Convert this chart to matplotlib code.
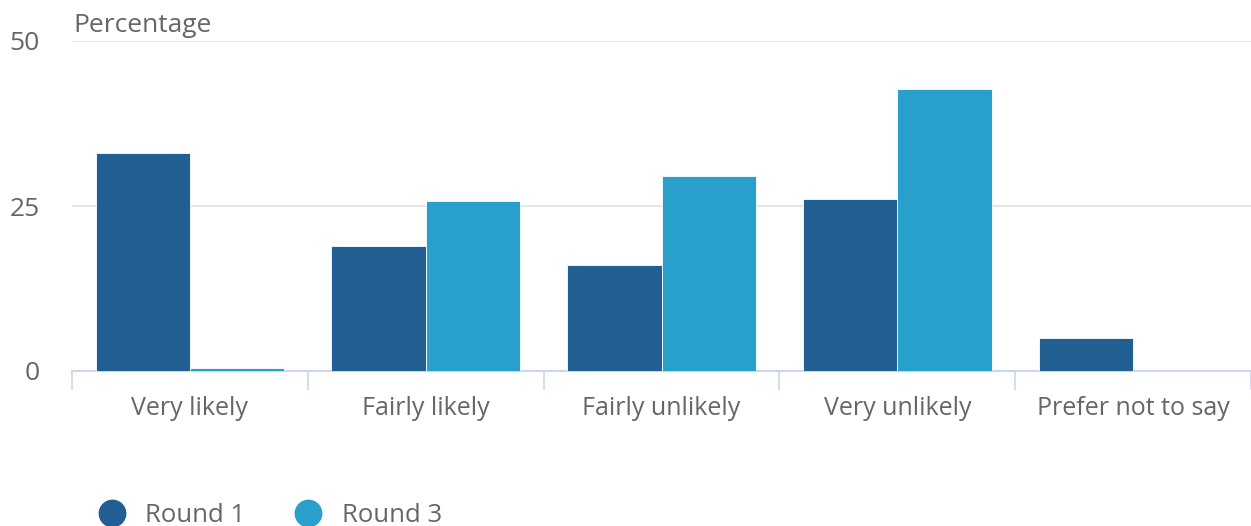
import numpy as np
import matplotlib
matplotlib.use("Agg")
import matplotlib.pyplot as plt
from matplotlib.lines import Line2D

categories = ["Very likely", "Fairly likely", "Fairly unlikely", "Very unlikely", "Prefer not to say"]
round1 = [33, 19, 16, 26, 5]
round3 = [0.5, 25.8, 29.6, 42.8, 0]
series_names = ["Round 1", "Round 3"]
colors = ["#215f92", "#28a0cb"]

plt.rcParams['font.family'] = ['Open Sans', 'DejaVu Sans']
text_color = "#666666"

fig = plt.figure(figsize=(12.51, 5.26), dpi=100)
ax = fig.add_axes([72 / 1251, (526 - 371) / 526, (1251 - 72) / 1251, 330 / 526])

x = np.arange(len(categories))
width = 0.4
ax.bar(x - width / 2, round1, width=width, color=colors[0], edgecolor="white", linewidth=0.6, zorder=3)
ax.bar(x + width / 2, round3, width=width, color=colors[1], edgecolor="white", linewidth=0.6, zorder=3)

ax.set_xlim(-0.5, len(categories) - 0.5)
ax.set_ylim(0, 50)
ax.set_yticks([0, 25, 50])
ax.yaxis.grid(True, color="#e6e6e6", linewidth=1.5, zorder=0)
ax.set_axisbelow(True)

ax.set_xticks(x)
ax.set_xticklabels(categories)
ax.set_xticks(np.arange(-0.5, len(categories) - 0.4, 1), minor=True)
ax.tick_params(axis="x", which="major", length=0, pad=18, labelsize=18, labelcolor=text_color)
ax.tick_params(axis="x", which="minor", length=14, width=1.2, color="#ccd6eb")
ax.tick_params(axis="y", length=0, pad=23, labelsize=19, labelcolor=text_color)
for lbl in ax.get_yticklabels():
    lbl.set_horizontalalignment("right")

for side in ["top", "right", "left"]:
    ax.spines[side].set_visible(False)
ax.spines["bottom"].set_color("#ccd6eb")
ax.spines["bottom"].set_linewidth(1.5)

fig.text(73 / 1251, 1 - 25 / 526, "Percentage", fontsize=19, color=text_color, ha="left", va="center")

handles = [Line2D([], [], marker="o", linestyle="", markersize=19, color=c) for c in colors]
fig.legend(handles, series_names, loc="center left", bbox_to_anchor=(76 / 1251, 1 - 515 / 526),
           frameon=False, ncol=2, fontsize=18.5, labelcolor=text_color, handletextpad=0.3,
           columnspacing=1.45, borderaxespad=0)

fig.savefig("out.png", dpi=100)
